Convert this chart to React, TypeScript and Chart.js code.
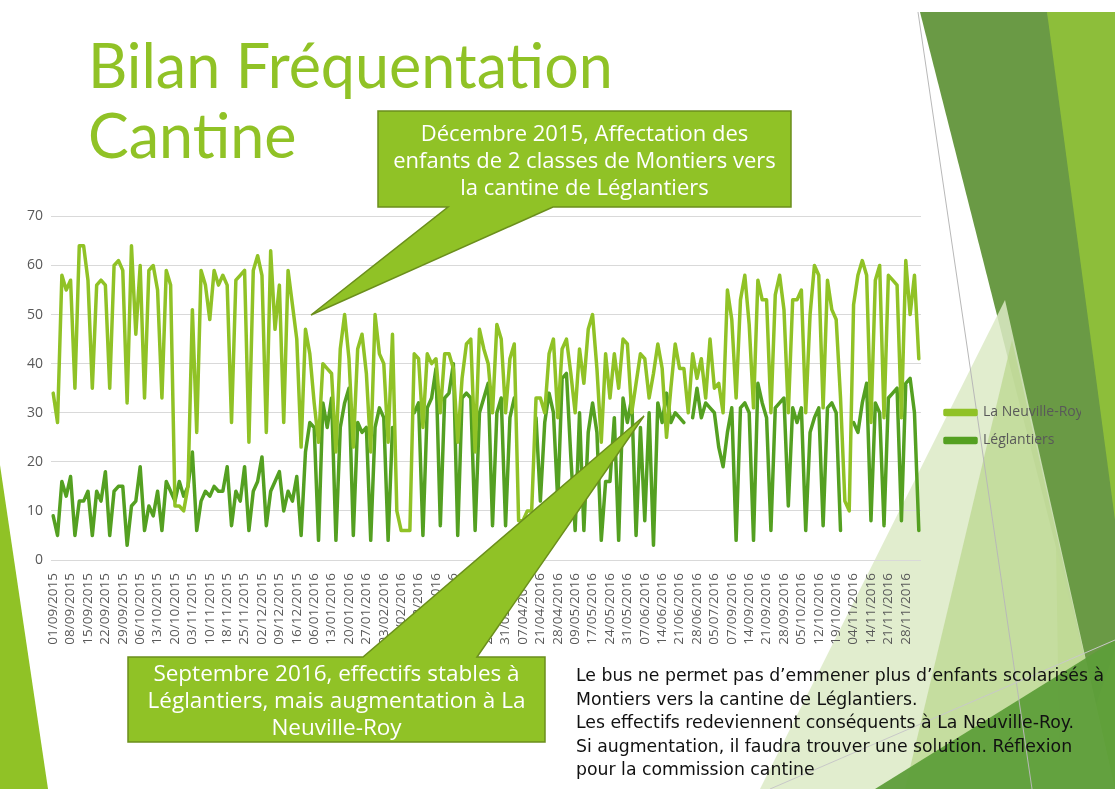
import React, { useEffect, useRef } from 'react';
import { Chart, registerables } from 'chart.js';

Chart.register(...registerables);

// Tick labels shown on the category axis (one every 4 school days)
const tickLabels = [
  '01/09/2015', '08/09/2015', '15/09/2015', '22/09/2015', '29/09/2015', '06/10/2015', '13/10/2015', '20/10/2015',
  '03/11/2015', '10/11/2015', '18/11/2015', '25/11/2015', '02/12/2015', '09/12/2015', '16/12/2015',
  '06/01/2016', '13/01/2016', '20/01/2016', '27/01/2016', '03/02/2016', '10/02/2016', '24/02/2016', '02/03/2016',
  '09/03/2016', '16/03/2016', '23/03/2016', '31/03/2016', '07/04/2016', '21/04/2016', '28/04/2016', '09/05/2016',
  '17/05/2016', '24/05/2016', '31/05/2016', '07/06/2016', '14/06/2016', '21/06/2016', '28/06/2016', '05/07/2016',
  '07/09/2016', '14/09/2016', '21/09/2016', '28/09/2016', '05/10/2016', '12/10/2016', '19/10/2016', '04/11/2016',
  '14/11/2016', '21/11/2016', '28/11/2016',
];

const yTicks = [0, 10, 20, 30, 40, 50, 60, 70];

const seriesNames = ['La Neuville-Roy', 'Léglantiers'];

const neuvilleRoy = [
  34, 28, 58, 55, 57, 35, 64, 64, 57, 35, 56, 57, 56, 35, 60, 61,
  59, 32, 64, 46, 60, 33, 59, 60, 55, 33, 59, 56, 11, 11, 10, 15,
  51, 26, 59, 56, 49, 59, 56, 58, 56, 28, 57, 58, 59, 24, 59, 62,
  58, 26, 63, 47, 56, 28, 59, 52, 45, 23, 47, 42, 32, 24, 40, 39,
  38, 22, 43, 50, 41, 23, 43, 46, 38, 22, 50, 42, 40, 24, 46, 10,
  6, 6, 6, 42, 41, 27, 42, 40, 41, 30, 42, 42, 39, 24, 37, 44,
  45, 22, 47, 43, 40, 30, 48, 45, 30, 41, 44, 8, 8, 10, 10, 33,
  33, 30, 42, 45, 29, 43, 45, 38, 30, 43, 36, 47, 50, 39, 24, 42,
  33, 42, 35, 45, 44, 30, 36, 42, 41, 33, 38, 44, 39, 25, 35, 44,
  39, 39, 30, 42, 37, 41, 33, 45, 35, 36, 30, 55, 49, 33, 53, 58,
  48, 31, 57, 53, 53, 30, 54, 58, 51, 30, 53, 53, 55, 30, 50, 60,
  58, 31, 57, 51, 49, 33, 12, 10, 52, 58, 61, 58, 28, 57, 60, 29,
  58, 57, 56, 29, 61, 50, 58, 41,
];

const leglantiers = [
  9, 5, 16, 13, 17, 5, 12, 12, 14, 5, 14, 12, 18, 5, 14, 15,
  15, 3, 11, 12, 19, 6, 11, 9, 14, 6, 16, 14, 12, 16, 13, 15,
  22, 6, 12, 14, 13, 15, 14, 14, 19, 7, 14, 12, 19, 6, 14, 16,
  21, 7, 14, 16, 18, 10, 14, 12, 17, 5, 22, 28, 27, 4, 32, 27,
  33, 4, 27, 32, 35, 5, 28, 26, 27, 4, 27, 31, 29, 4, 27, null,
  null, null, null, 30, 32, 5, 31, 33, 39, 7, 33, 34, 40, 5, 33, 34,
  33, 6, 30, 33, 36, 7, 30, 33, 7, 29, 33, null, null, null, null, 29,
  12, 28, 34, 30, 12, 37, 38, 21, 6, 30, 6, 26, 32, 26, 4, 16,
  16, 29, 4, 33, 28, 33, 5, 27, 8, 30, 3, 32, 28, 34, 28, 30,
  29, 28, null, 29, 35, 29, 32, 31, 30, 23, 19, 26, 31, 4, 31, 32,
  30, 4, 36, 32, 29, 6, 31, 32, 33, 11, 31, 28, 31, 6, 26, 29,
  31, 7, 31, 32, 30, 6, null, null, 28, 26, 32, 36, 8, 32, 30, 7,
  33, 34, 35, 8, 36, 37, 30, 6,
];

const categories: string[] = [];
tickLabels.forEach((t) => {
  categories.push(t, '', '', '');
});

const GREEN1 = '#90C226';
const GREEN2 = '#54A021';

const legendShift = {
  id: 'legendShift',
  afterLayout(chart: any) {
    const l = chart.legend;
    if (l) {
      l.left += 10;
      l.right += 10;
      l.top -= 10;
      l.bottom -= 10;
    }
  },
};

function ChartCanvas() {
  const ref = useRef<HTMLCanvasElement | null>(null);
  useEffect(() => {
    if (!ref.current) return;
    const chart = new Chart(ref.current, {
      type: 'line',
      data: {
        labels: categories,
        datasets: [
          {
            label: seriesNames[0],
            data: neuvilleRoy,
            borderColor: GREEN1,
            backgroundColor: GREEN1,
            borderWidth: 3.5,
            pointRadius: 0,
            tension: 0,
            borderJoinStyle: 'round',
            borderCapStyle: 'round',
            spanGaps: false,
          },
          {
            label: seriesNames[1],
            data: leglantiers,
            borderColor: GREEN2,
            backgroundColor: GREEN2,
            borderWidth: 3.5,
            pointRadius: 0,
            tension: 0,
            borderJoinStyle: 'round',
            borderCapStyle: 'round',
            spanGaps: false,
          },
        ],
      },
      options: {
        responsive: false,
        animation: false,
        layout: { padding: { top: 13, right: 44, left: 0, bottom: 0 } },
        plugins: {
          tooltip: { enabled: false },
          legend: {
            position: 'right',
            maxWidth: 150,
            labels: {
              boxWidth: 31,
              boxHeight: 4,
              padding: 14,
              color: '#595959',
              font: { family: 'Open Sans', size: 14 },
            },
          },
        },
        scales: {
          x: {
            offset: true,
            grid: { display: false },
            border: { display: false },
            ticks: {
              autoSkip: false,
              minRotation: 90,
              maxRotation: 90,
              padding: 5,
              color: '#595959',
              font: { family: 'Open Sans', size: 13.5 },
              callback: (_v: any, i: number) => categories[i],
            },
            afterFit: (s: any) => {
              s.height = 100;
            },
          },
          y: {
            min: 0,
            max: 70,
            afterBuildTicks: (s: any) => {
              s.ticks = yTicks.map((v) => ({ value: v }));
            },
            grid: { color: '#d9d9d9', lineWidth: 1, drawTicks: false },
            border: { display: false },
            ticks: {
              padding: 8,
              color: '#595959',
              font: { family: 'Open Sans', size: 14 },
            },
            afterFit: (s: any) => {
              s.width = 51;
            },
          },
        },
      },
      plugins: [legendShift],
    });
    return () => chart.destroy();
  }, []);
  return <canvas ref={ref} width={1115} height={460} style={{ display: 'block' }} />;
}

const calloutFont = "'Open Sans', sans-serif";

export default function App() {
  useEffect(() => {
    document.body.style.margin = '0';
    document.body.style.background = '#ffffff';
  }, []);
  return (
    <div style={{ position: 'relative', width: 1115, height: 789, overflow: 'hidden', background: '#fff' }}>
      {/* decorative theme shapes */}
      <svg width={1115} height={789} style={{ position: 'absolute', left: 0, top: 0 }}>
        <polygon points="0,465 48,789 0,789" fill="#90C226" />
        <polygon points="1047,12 1115,12 1115,789 1060,789" fill="#8DBE3A" />
        <polygon points="920,12 1047,12 1115,520 1115,650 1096,705" fill="#6A9A45" />
        <polygon points="1005,300 1115,789 760,789" fill="#DCEAC6" opacity="0.85" />
        <polygon points="1012,340 1115,789 905,789" fill="#B9D58C" opacity="0.7" />
        <polygon points="1115,640 1115,789 875,789" fill="#5E9E3A" opacity="0.95" />
        <line x1="918" y1="12" x2="1032" y2="789" stroke="#B8B8B8" strokeWidth="1" />
        <line x1="770" y1="789" x2="1115" y2="640" stroke="#C8C8C8" strokeWidth="1" />
      </svg>
      <div style={{ position: 'absolute', left: 0, top: 200 }}>
        <ChartCanvas />
      </div>
      <div
        style={{
          position: 'absolute',
          left: 88,
          top: 30,
          fontFamily: "'Lato', sans-serif",
          fontSize: 61,
          lineHeight: '70px',
          color: GREEN1,
          whiteSpace: 'pre',
        }}
      >
        {'Bilan Fréquentation\nCantine'}
      </div>
      <svg width={1115} height={789} style={{ position: 'absolute', left: 0, top: 0, pointerEvents: 'none' }}>
        <path d="M378,111 H791 V207 H553 L311,315 L448,207 H378 Z" fill={GREEN1} stroke="#6B8F1C" strokeWidth={1.5} />
        <path d="M128,657 H363 L644,416 L477,657 H545 V742 H128 Z" fill={GREEN1} stroke="#6B8F1C" strokeWidth={1.5} />
      </svg>
      <div
        style={{
          position: 'absolute',
          left: 378,
          top: 111,
          width: 413,
          height: 96,
          display: 'flex',
          alignItems: 'center',
          justifyContent: 'center',
          textAlign: 'center',
          color: '#fff',
          fontFamily: calloutFont,
          fontSize: 22,
          lineHeight: '27px',
          whiteSpace: 'pre',
        }}
      >
        {'Décembre 2015, Affectation des\nenfants de 2 classes de Montiers vers\nla cantine de Léglantiers'}
      </div>
      <div
        style={{
          position: 'absolute',
          left: 128,
          top: 657,
          width: 417,
          height: 85,
          display: 'flex',
          alignItems: 'center',
          justifyContent: 'center',
          textAlign: 'center',
          color: '#fff',
          fontFamily: calloutFont,
          fontSize: 22.5,
          lineHeight: '27px',
          whiteSpace: 'pre',
        }}
      >
        {'Septembre 2016, effectifs stables à\nLéglantiers, mais augmentation à La\nNeuville-Roy'}
      </div>
      <div
        style={{
          position: 'absolute',
          left: 576,
          top: 664,
          color: '#111',
          fontFamily: "'DejaVu Sans', sans-serif",
          fontSize: 17.3,
          lineHeight: '23.5px',
          whiteSpace: 'pre',
        }}
      >
        {'Le bus ne permet pas d’emmener plus d’enfants scolarisés à\nMontiers vers la cantine de Léglantiers.\nLes effectifs redeviennent conséquents à La Neuville-Roy.\nSi augmentation, il faudra trouver une solution. Réflexion\npour la commission cantine'}
      </div>
    </div>
  );
}
